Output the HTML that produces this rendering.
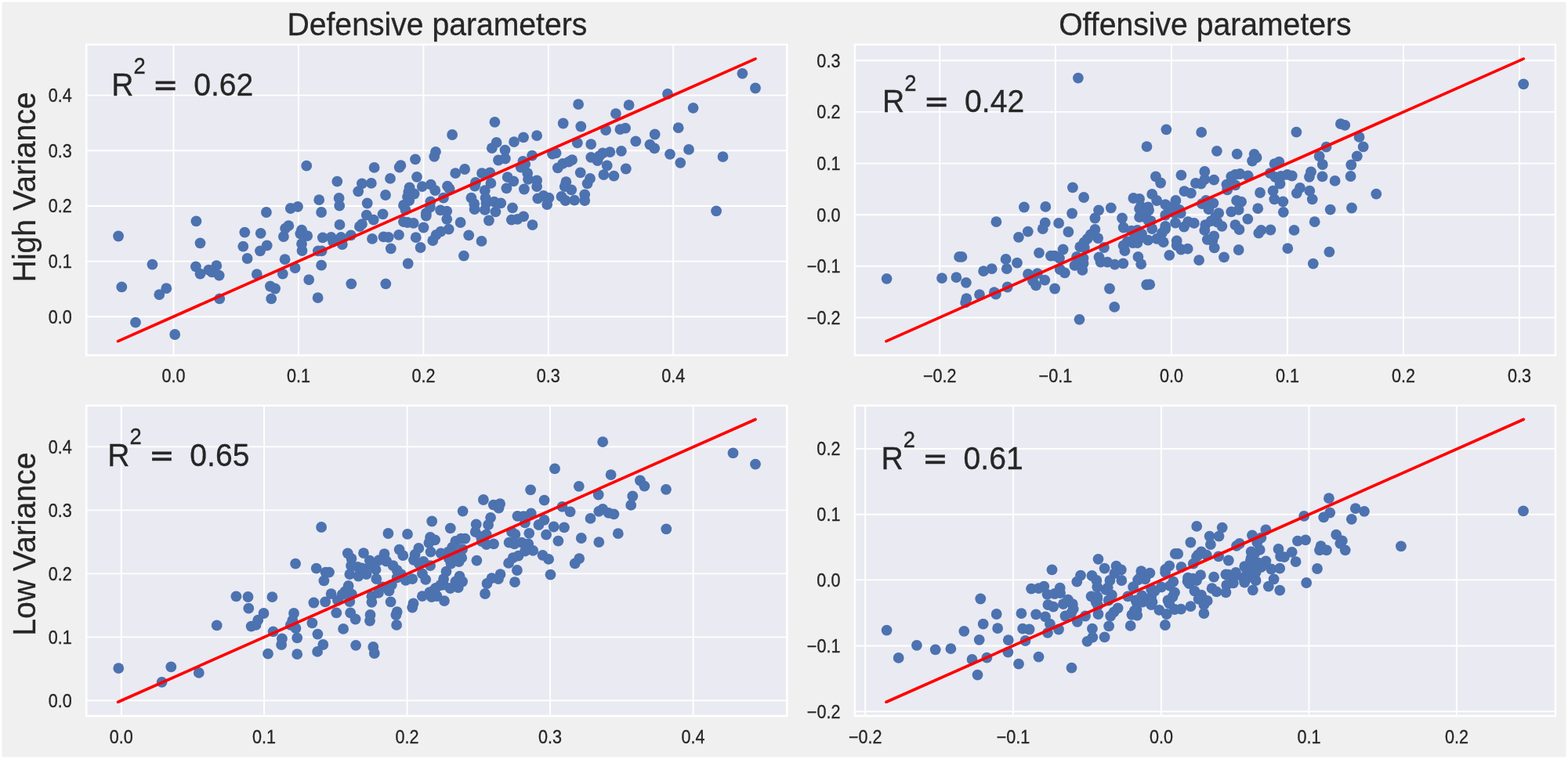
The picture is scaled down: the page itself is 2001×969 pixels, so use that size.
<!DOCTYPE html>
<html><head><meta charset="utf-8"><title>R2 scatter</title>
<style>
html,body{margin:0;padding:0;background:#fff;}
body{width:2001px;height:969px;overflow:hidden;}
svg{display:block;}
text{font-family:"Liberation Sans",Arial,sans-serif;fill:#262626;stroke:#262626;stroke-width:0.3px;}
.t{font-size:21.6px;}
.b{font-size:39.15px;}
.s{font-size:27.405px;}
.e{font-family:"DejaVu Sans",sans-serif;font-size:39.25px;}
.g{stroke:#fff;stroke-width:1.9;fill:none;}
.sp{stroke:#fff;stroke-width:2.5;fill:none;}
.d{fill:#4c72b0;}
.l{stroke:#f00;stroke-width:3.7;stroke-linecap:round;fill:none;}
</style></head>
<body>
<svg width="2001" height="969" viewBox="0 0 2001 969">
<rect x="0" y="0" width="2001" height="969" fill="#fff"/>
<rect x="2.6" y="2.6" width="1996" height="963.9" fill="#f0f0f0"/>
<g id="panelA">
<rect x="110.3" y="56.9" width="894.1" height="396.6" fill="#eaeaf2"/>
<line class="g" x1="221.5" y1="56.9" x2="221.5" y2="453.5"/>
<line class="g" x1="380.9" y1="56.9" x2="380.9" y2="453.5"/>
<line class="g" x1="540.4" y1="56.9" x2="540.4" y2="453.5"/>
<line class="g" x1="699.8" y1="56.9" x2="699.8" y2="453.5"/>
<line class="g" x1="859.2" y1="56.9" x2="859.2" y2="453.5"/>
<line class="g" x1="110.3" y1="404.3" x2="1004.4" y2="404.3"/>
<line class="g" x1="110.3" y1="333.6" x2="1004.4" y2="333.6"/>
<line class="g" x1="110.3" y1="263.0" x2="1004.4" y2="263.0"/>
<line class="g" x1="110.3" y1="192.3" x2="1004.4" y2="192.3"/>
<line class="g" x1="110.3" y1="121.6" x2="1004.4" y2="121.6"/>
<g class="d">
<circle cx="947.4" cy="93.8" r="6.9"/><circle cx="964" cy="112.5" r="6.9"/><circle cx="852" cy="120" r="6.9"/><circle cx="802.6" cy="134.1" r="6.9"/><circle cx="884.6" cy="137.8" r="6.9"/><circle cx="785.9" cy="145.1" r="6.9"/>
<circle cx="865.7" cy="163.2" r="6.9"/><circle cx="773.1" cy="166" r="6.9"/><circle cx="791.4" cy="165.2" r="6.9"/><circle cx="798.1" cy="163.7" r="6.9"/><circle cx="835.7" cy="171.5" r="6.9"/><circle cx="811.3" cy="180.4" r="6.9"/>
<circle cx="829.4" cy="184.6" r="6.9"/><circle cx="835.2" cy="189.4" r="6.9"/><circle cx="754.2" cy="184.1" r="6.9"/><circle cx="879" cy="190.9" r="6.9"/><circle cx="855" cy="196.8" r="6.9"/><circle cx="922.5" cy="200.1" r="6.9"/>
<circle cx="792.9" cy="192.8" r="6.9"/><circle cx="778.4" cy="194.1" r="6.9"/><circle cx="769.2" cy="195.4" r="6.9"/><circle cx="765" cy="199.1" r="6.9"/><circle cx="762.5" cy="205" r="6.9"/><circle cx="754.2" cy="200.8" r="6.9"/>
<circle cx="868.3" cy="207.8" r="6.9"/><circle cx="738.1" cy="133.1" r="6.9"/><circle cx="631.4" cy="155.8" r="6.9"/><circle cx="718.7" cy="157.5" r="6.9"/><circle cx="741.3" cy="161.5" r="6.9"/><circle cx="577.1" cy="172" r="6.9"/>
<circle cx="685.1" cy="173.2" r="6.9"/><circle cx="668" cy="175.4" r="6.9"/><circle cx="656" cy="181.1" r="6.9"/><circle cx="633.6" cy="181.9" r="6.9"/><circle cx="627.8" cy="189.2" r="6.9"/><circle cx="644.5" cy="191.6" r="6.9"/>
<circle cx="736.8" cy="182.4" r="6.9"/><circle cx="556" cy="193.8" r="6.9"/><circle cx="554.2" cy="199.8" r="6.9"/><circle cx="530" cy="203.3" r="6.9"/><circle cx="679.1" cy="198.6" r="6.9"/><circle cx="705" cy="196.6" r="6.9"/>
<circle cx="709.5" cy="195.4" r="6.9"/><circle cx="636" cy="204.5" r="6.9"/><circle cx="644.8" cy="202.5" r="6.9"/><circle cx="667.4" cy="205.8" r="6.9"/><circle cx="730.1" cy="204.1" r="6.9"/><circle cx="391.2" cy="211.7" r="6.9"/>
<circle cx="430.3" cy="231.7" r="6.9"/><circle cx="407.2" cy="255.2" r="6.9"/><circle cx="432.6" cy="253" r="6.9"/><circle cx="433.2" cy="262.7" r="6.9"/><circle cx="370.8" cy="266" r="6.9"/><circle cx="380" cy="263.8" r="6.9"/>
<circle cx="339.9" cy="271" r="6.9"/><circle cx="410.1" cy="271" r="6.9"/><circle cx="250.4" cy="282.4" r="6.9"/><circle cx="433.5" cy="286.9" r="6.9"/><circle cx="368.3" cy="288.2" r="6.9"/><circle cx="364.1" cy="291.6" r="6.9"/>
<circle cx="312.3" cy="296.6" r="6.9"/><circle cx="332.7" cy="297.8" r="6.9"/><circle cx="361.9" cy="302" r="6.9"/><circle cx="385" cy="293.6" r="6.9"/><circle cx="383.3" cy="298.3" r="6.9"/><circle cx="392.2" cy="301.1" r="6.9"/>
<circle cx="151.1" cy="301.5" r="6.9"/><circle cx="411.8" cy="303.3" r="6.9"/><circle cx="422.6" cy="302.8" r="6.9"/><circle cx="425.1" cy="308.6" r="6.9"/><circle cx="435.2" cy="302.8" r="6.9"/><circle cx="255.5" cy="310.3" r="6.9"/>
<circle cx="310.3" cy="314.7" r="6.9"/><circle cx="340.7" cy="313.3" r="6.9"/><circle cx="332" cy="320.3" r="6.9"/><circle cx="385" cy="311.2" r="6.9"/><circle cx="385.5" cy="320" r="6.9"/><circle cx="405.9" cy="320.3" r="6.9"/>
<circle cx="410.6" cy="320.3" r="6.9"/><circle cx="436.8" cy="312" r="6.9"/><circle cx="315.6" cy="330" r="6.9"/><circle cx="363.6" cy="331.2" r="6.9"/><circle cx="194.4" cy="337.7" r="6.9"/><circle cx="249.9" cy="340.4" r="6.9"/>
<circle cx="276.3" cy="339.2" r="6.9"/><circle cx="266.3" cy="344.6" r="6.9"/><circle cx="255.5" cy="349.6" r="6.9"/><circle cx="270.5" cy="347.4" r="6.9"/><circle cx="279.7" cy="351.6" r="6.9"/><circle cx="376.6" cy="342.1" r="6.9"/>
<circle cx="410.1" cy="338.7" r="6.9"/><circle cx="327.8" cy="350.1" r="6.9"/><circle cx="360.8" cy="349.6" r="6.9"/><circle cx="394.2" cy="357.1" r="6.9"/><circle cx="477.6" cy="213.9" r="6.9"/><circle cx="511.4" cy="211.1" r="6.9"/>
<circle cx="509.7" cy="213.5" r="6.9"/><circle cx="498" cy="227.9" r="6.9"/><circle cx="532" cy="225.8" r="6.9"/><circle cx="581.2" cy="221.1" r="6.9"/><circle cx="593.1" cy="216" r="6.9"/><circle cx="461.9" cy="234.3" r="6.9"/>
<circle cx="473.8" cy="233.9" r="6.9"/><circle cx="457.2" cy="244.3" r="6.9"/><circle cx="492" cy="249" r="6.9"/><circle cx="522.6" cy="239.4" r="6.9"/><circle cx="521.3" cy="244.9" r="6.9"/><circle cx="528.6" cy="247.5" r="6.9"/>
<circle cx="520.1" cy="251.3" r="6.9"/><circle cx="522.2" cy="256" r="6.9"/><circle cx="538.8" cy="238.1" r="6.9"/><circle cx="549.8" cy="235.6" r="6.9"/><circle cx="555.3" cy="243.2" r="6.9"/><circle cx="571" cy="237.7" r="6.9"/>
<circle cx="573.6" cy="241.1" r="6.9"/><circle cx="468.7" cy="259.5" r="6.9"/><circle cx="515" cy="261.9" r="6.9"/><circle cx="517.5" cy="267.9" r="6.9"/><circle cx="549.4" cy="257.3" r="6.9"/><circle cx="565.9" cy="252.6" r="6.9"/>
<circle cx="548.9" cy="264.5" r="6.9"/><circle cx="543.8" cy="272.1" r="6.9"/><circle cx="543.8" cy="275.5" r="6.9"/><circle cx="562.1" cy="268.3" r="6.9"/><circle cx="570.2" cy="269.6" r="6.9"/><circle cx="570.2" cy="279.8" r="6.9"/>
<circle cx="467.8" cy="274.7" r="6.9"/><circle cx="488.6" cy="273.4" r="6.9"/><circle cx="476.7" cy="280.6" r="6.9"/><circle cx="587.6" cy="284" r="6.9"/><circle cx="515" cy="283.2" r="6.9"/><circle cx="520.1" cy="284" r="6.9"/>
<circle cx="527.7" cy="284.9" r="6.9"/><circle cx="615" cy="221.1" r="6.9"/><circle cx="625.2" cy="220.3" r="6.9"/><circle cx="606.9" cy="233" r="6.9"/><circle cx="606" cy="237.7" r="6.9"/><circle cx="626.4" cy="233.9" r="6.9"/>
<circle cx="618.8" cy="243.2" r="6.9"/><circle cx="647.7" cy="226.2" r="6.9"/><circle cx="655.3" cy="231.3" r="6.9"/><circle cx="646.4" cy="240.3" r="6.9"/><circle cx="664.7" cy="213.5" r="6.9"/><circle cx="670.2" cy="209.7" r="6.9"/>
<circle cx="673.2" cy="221.1" r="6.9"/><circle cx="674" cy="228.8" r="6.9"/><circle cx="685.1" cy="230.5" r="6.9"/><circle cx="685.1" cy="238.1" r="6.9"/><circle cx="668.9" cy="241.5" r="6.9"/><circle cx="711.8" cy="214.3" r="6.9"/>
<circle cx="718.2" cy="208.8" r="6.9"/><circle cx="725.8" cy="206.7" r="6.9"/><circle cx="740.7" cy="220.3" r="6.9"/><circle cx="753" cy="227.9" r="6.9"/><circle cx="749.6" cy="234.3" r="6.9"/><circle cx="722.4" cy="232.2" r="6.9"/>
<circle cx="720.7" cy="238.1" r="6.9"/><circle cx="729.2" cy="242.4" r="6.9"/><circle cx="601.4" cy="252.6" r="6.9"/><circle cx="605.2" cy="260.2" r="6.9"/><circle cx="605.6" cy="267" r="6.9"/><circle cx="619.6" cy="252.6" r="6.9"/>
<circle cx="620.5" cy="259.4" r="6.9"/><circle cx="630.7" cy="257.7" r="6.9"/><circle cx="639.2" cy="259.4" r="6.9"/><circle cx="618.8" cy="267.9" r="6.9"/><circle cx="632.4" cy="270.4" r="6.9"/><circle cx="623.9" cy="281.5" r="6.9"/>
<circle cx="654" cy="265.3" r="6.9"/><circle cx="686.3" cy="253.4" r="6.9"/><circle cx="693.6" cy="250" r="6.9"/><circle cx="700.4" cy="252.6" r="6.9"/><circle cx="698.2" cy="261.1" r="6.9"/><circle cx="716.5" cy="250.9" r="6.9"/>
<circle cx="721.6" cy="256" r="6.9"/><circle cx="733.1" cy="255.6" r="6.9"/><circle cx="746.2" cy="248.3" r="6.9"/><circle cx="746.2" cy="256" r="6.9"/><circle cx="652.8" cy="280.6" r="6.9"/><circle cx="660.4" cy="279.8" r="6.9"/>
<circle cx="668.1" cy="276.4" r="6.9"/><circle cx="458.9" cy="289.2" r="6.9"/><circle cx="461.9" cy="286.2" r="6.9"/><circle cx="540.5" cy="290.5" r="6.9"/><circle cx="572.7" cy="292.6" r="6.9"/><circle cx="562.5" cy="295.6" r="6.9"/>
<circle cx="556.6" cy="299.8" r="6.9"/><circle cx="552.3" cy="307.1" r="6.9"/><circle cx="598.2" cy="300.3" r="6.9"/><circle cx="447.8" cy="300.3" r="6.9"/><circle cx="475" cy="304.9" r="6.9"/><circle cx="489.5" cy="302.4" r="6.9"/>
<circle cx="495.8" cy="302.8" r="6.9"/><circle cx="509" cy="299.8" r="6.9"/><circle cx="530.7" cy="303.2" r="6.9"/><circle cx="498.8" cy="317.3" r="6.9"/><circle cx="536.6" cy="316" r="6.9"/><circle cx="591.9" cy="326.6" r="6.9"/>
<circle cx="520.7" cy="336.5" r="6.9"/><circle cx="448.3" cy="362.3" r="6.9"/><circle cx="492.3" cy="362.3" r="6.9"/><circle cx="679.5" cy="287.1" r="6.9"/><circle cx="614.5" cy="307.9" r="6.9"/><circle cx="774.7" cy="211.4" r="6.9"/>
<circle cx="798.8" cy="215.5" r="6.9"/><circle cx="770.4" cy="223.1" r="6.9"/><circle cx="783.4" cy="224.7" r="6.9"/><circle cx="914.1" cy="269.4" r="6.9"/><circle cx="155.3" cy="366.4" r="6.9"/><circle cx="212.3" cy="368.2" r="6.9"/>
<circle cx="203.3" cy="376.1" r="6.9"/><circle cx="344.9" cy="365.5" r="6.9"/><circle cx="351.1" cy="368.5" r="6.9"/><circle cx="280.2" cy="381.4" r="6.9"/><circle cx="346.2" cy="381.4" r="6.9"/><circle cx="405.6" cy="380.2" r="6.9"/>
<circle cx="173" cy="411.7" r="6.9"/><circle cx="223.2" cy="427" r="6.9"/>
</g>
<line class="l" x1="150.6" y1="435.6" x2="964.0" y2="75.1"/>
<rect class="sp" x="110.3" y="56.9" width="894.1" height="396.6"/>
<text class="t" transform="translate(221.50 488.20) scale(1 1.08)" text-anchor="middle">0.0</text>
<text class="t" transform="translate(380.90 488.20) scale(1 1.08)" text-anchor="middle">0.1</text>
<text class="t" transform="translate(540.40 488.20) scale(1 1.08)" text-anchor="middle">0.2</text>
<text class="t" transform="translate(699.80 488.20) scale(1 1.08)" text-anchor="middle">0.3</text>
<text class="t" transform="translate(859.20 488.20) scale(1 1.08)" text-anchor="middle">0.4</text>
<text class="t" transform="translate(91.80 412.70) scale(1 1.08)" text-anchor="end">0.0</text>
<text class="t" transform="translate(91.80 342.00) scale(1 1.08)" text-anchor="end">0.1</text>
<text class="t" transform="translate(91.80 271.40) scale(1 1.08)" text-anchor="end">0.2</text>
<text class="t" transform="translate(91.80 200.70) scale(1 1.08)" text-anchor="end">0.3</text>
<text class="t" transform="translate(91.80 130.00) scale(1 1.08)" text-anchor="end">0.4</text>
<text class="b" transform="translate(142.20 121.75) scale(1 1.045)">R</text>
<text class="s" transform="translate(170.40 94.45) scale(1 1.045)">2</text>
<text class="e" transform="translate(194.80 121.75) scale(1 1.045)">=</text>
<text class="b" transform="translate(247.20 121.75) scale(1 1.045)">0.62</text>
</g>
<g id="panelB">
<rect x="1090.9" y="56.9" width="894.0" height="396.6" fill="#eaeaf2"/>
<line class="g" x1="1199.2" y1="56.9" x2="1199.2" y2="453.5"/>
<line class="g" x1="1346.9" y1="56.9" x2="1346.9" y2="453.5"/>
<line class="g" x1="1494.9" y1="56.9" x2="1494.9" y2="453.5"/>
<line class="g" x1="1642.9" y1="56.9" x2="1642.9" y2="453.5"/>
<line class="g" x1="1790.9" y1="56.9" x2="1790.9" y2="453.5"/>
<line class="g" x1="1939.0" y1="56.9" x2="1939.0" y2="453.5"/>
<line class="g" x1="1090.9" y1="77.2" x2="1984.9" y2="77.2"/>
<line class="g" x1="1090.9" y1="142.9" x2="1984.9" y2="142.9"/>
<line class="g" x1="1090.9" y1="208.6" x2="1984.9" y2="208.6"/>
<line class="g" x1="1090.9" y1="274.2" x2="1984.9" y2="274.2"/>
<line class="g" x1="1090.9" y1="339.8" x2="1984.9" y2="339.8"/>
<line class="g" x1="1090.9" y1="405.5" x2="1984.9" y2="405.5"/>
<g class="d">
<circle cx="1375.9" cy="99.6" r="6.9"/><circle cx="1488.4" cy="165.3" r="6.9"/><circle cx="1533.2" cy="168.9" r="6.9"/><circle cx="1463.5" cy="187.1" r="6.9"/><circle cx="1552.9" cy="192.8" r="6.9"/><circle cx="1578.7" cy="196.6" r="6.9"/>
<circle cx="1600.6" cy="196.8" r="6.9"/><circle cx="1603.6" cy="201.1" r="6.9"/><circle cx="1598.1" cy="205.5" r="6.9"/><circle cx="1654.4" cy="168.7" r="6.9"/><circle cx="1710.9" cy="158.2" r="6.9"/><circle cx="1716.3" cy="159.8" r="6.9"/>
<circle cx="1734.6" cy="174.9" r="6.9"/><circle cx="1692.5" cy="187.7" r="6.9"/><circle cx="1739.7" cy="187.4" r="6.9"/><circle cx="1683.7" cy="199.4" r="6.9"/><circle cx="1731.8" cy="199.4" r="6.9"/><circle cx="1626.5" cy="209.1" r="6.9"/>
<circle cx="1632.3" cy="206.6" r="6.9"/><circle cx="1687.8" cy="210" r="6.9"/><circle cx="1724.3" cy="210.5" r="6.9"/><circle cx="1944.2" cy="107.3" r="6.9"/><circle cx="1131.6" cy="355.8" r="6.9"/><circle cx="1202" cy="355.1" r="6.9"/>
<circle cx="1220.4" cy="354.1" r="6.9"/><circle cx="1232.9" cy="360.8" r="6.9"/><circle cx="1224.1" cy="327.9" r="6.9"/><circle cx="1227.4" cy="327.9" r="6.9"/><circle cx="1368.9" cy="239.4" r="6.9"/><circle cx="1383.1" cy="252" r="6.9"/>
<circle cx="1306.9" cy="264.5" r="6.9"/><circle cx="1334.3" cy="263.9" r="6.9"/><circle cx="1368.1" cy="272.5" r="6.9"/><circle cx="1402.1" cy="268.3" r="6.9"/><circle cx="1397.4" cy="278.5" r="6.9"/><circle cx="1417.8" cy="265.3" r="6.9"/>
<circle cx="1271.4" cy="283.2" r="6.9"/><circle cx="1333.7" cy="284.4" r="6.9"/><circle cx="1351.1" cy="284.9" r="6.9"/><circle cx="1474.9" cy="225.4" r="6.9"/><circle cx="1481.1" cy="233.5" r="6.9"/><circle cx="1507.4" cy="223.7" r="6.9"/>
<circle cx="1537.3" cy="219" r="6.9"/><circle cx="1549.2" cy="229.6" r="6.9"/><circle cx="1525.9" cy="233.9" r="6.9"/><circle cx="1532.7" cy="234.7" r="6.9"/><circle cx="1537.3" cy="229.2" r="6.9"/><circle cx="1511.4" cy="244.1" r="6.9"/>
<circle cx="1519.9" cy="246.6" r="6.9"/><circle cx="1470.2" cy="247.9" r="6.9"/><circle cx="1446.4" cy="253" r="6.9"/><circle cx="1454.1" cy="253.9" r="6.9"/><circle cx="1476.2" cy="256" r="6.9"/><circle cx="1500.4" cy="256" r="6.9"/>
<circle cx="1487.2" cy="261.1" r="6.9"/><circle cx="1455.8" cy="263.6" r="6.9"/><circle cx="1465.1" cy="264.5" r="6.9"/><circle cx="1454.1" cy="266.6" r="6.9"/><circle cx="1466" cy="268.3" r="6.9"/><circle cx="1496.6" cy="264.5" r="6.9"/>
<circle cx="1505.1" cy="267.9" r="6.9"/><circle cx="1487.2" cy="274.7" r="6.9"/><circle cx="1506.8" cy="272.1" r="6.9"/><circle cx="1432" cy="278.5" r="6.9"/><circle cx="1454.1" cy="277.2" r="6.9"/><circle cx="1462.6" cy="278.1" r="6.9"/>
<circle cx="1466" cy="281.9" r="6.9"/><circle cx="1539" cy="256" r="6.9"/><circle cx="1548.4" cy="259.4" r="6.9"/><circle cx="1533.9" cy="260.2" r="6.9"/><circle cx="1542.4" cy="267" r="6.9"/><circle cx="1555.2" cy="272.1" r="6.9"/>
<circle cx="1550.9" cy="277.2" r="6.9"/><circle cx="1516.1" cy="283.2" r="6.9"/><circle cx="1523.8" cy="284.9" r="6.9"/><circle cx="1576.4" cy="222.8" r="6.9"/><circle cx="1582.4" cy="222" r="6.9"/><circle cx="1571.3" cy="225.4" r="6.9"/>
<circle cx="1565.4" cy="235.6" r="6.9"/><circle cx="1576.4" cy="236.4" r="6.9"/><circle cx="1566.2" cy="242.4" r="6.9"/><circle cx="1578.1" cy="256" r="6.9"/><circle cx="1584.1" cy="257.7" r="6.9"/><circle cx="1571.3" cy="270.4" r="6.9"/>
<circle cx="1580.7" cy="267.9" r="6.9"/><circle cx="1592.7" cy="224.5" r="6.9"/><circle cx="1620.8" cy="221.1" r="6.9"/><circle cx="1627.6" cy="226.2" r="6.9"/><circle cx="1634.8" cy="225" r="6.9"/><circle cx="1642.9" cy="222.8" r="6.9"/>
<circle cx="1648.8" cy="224.5" r="6.9"/><circle cx="1633.5" cy="234.7" r="6.9"/><circle cx="1673" cy="219.4" r="6.9"/><circle cx="1670.9" cy="225.8" r="6.9"/><circle cx="1687.5" cy="225.4" r="6.9"/><circle cx="1703.6" cy="230.9" r="6.9"/>
<circle cx="1723.6" cy="225" r="6.9"/><circle cx="1659" cy="239.8" r="6.9"/><circle cx="1654.8" cy="246.6" r="6.9"/><circle cx="1671.3" cy="243.7" r="6.9"/><circle cx="1674.7" cy="254.3" r="6.9"/><circle cx="1608" cy="246" r="6.9"/>
<circle cx="1624.6" cy="243.7" r="6.9"/><circle cx="1626.3" cy="254.3" r="6.9"/><circle cx="1637.3" cy="257.3" r="6.9"/><circle cx="1637.8" cy="270.8" r="6.9"/><circle cx="1605.2" cy="266.2" r="6.9"/><circle cx="1697.7" cy="267.6" r="6.9"/>
<circle cx="1725" cy="265.5" r="6.9"/><circle cx="1592.3" cy="279.6" r="6.9"/><circle cx="1677.7" cy="283.2" r="6.9"/><circle cx="1311.8" cy="295.6" r="6.9"/><circle cx="1299.9" cy="302.8" r="6.9"/><circle cx="1330.7" cy="292.2" r="6.9"/>
<circle cx="1363.4" cy="296" r="6.9"/><circle cx="1397.4" cy="293" r="6.9"/><circle cx="1401.2" cy="304.1" r="6.9"/><circle cx="1387.6" cy="304.9" r="6.9"/><circle cx="1378.3" cy="315.1" r="6.9"/><circle cx="1383.8" cy="316.4" r="6.9"/>
<circle cx="1326" cy="322.8" r="6.9"/><circle cx="1356.6" cy="318.5" r="6.9"/><circle cx="1340.9" cy="326.6" r="6.9"/><circle cx="1352" cy="329.6" r="6.9"/><circle cx="1408.9" cy="316" r="6.9"/><circle cx="1374" cy="327.9" r="6.9"/>
<circle cx="1382.5" cy="329.6" r="6.9"/><circle cx="1382.5" cy="336.4" r="6.9"/><circle cx="1402.5" cy="328.3" r="6.9"/><circle cx="1404.6" cy="334.7" r="6.9"/><circle cx="1413.1" cy="334.7" r="6.9"/><circle cx="1283.6" cy="330.9" r="6.9"/>
<circle cx="1298" cy="335.7" r="6.9"/><circle cx="1284.8" cy="343.2" r="6.9"/><circle cx="1265.7" cy="343.2" r="6.9"/><circle cx="1255.1" cy="346.1" r="6.9"/><circle cx="1312" cy="350" r="6.9"/><circle cx="1323.9" cy="349.1" r="6.9"/>
<circle cx="1352.8" cy="344" r="6.9"/><circle cx="1358.8" cy="348.3" r="6.9"/><circle cx="1371.5" cy="338.9" r="6.9"/><circle cx="1381.3" cy="344.9" r="6.9"/><circle cx="1318" cy="358.5" r="6.9"/><circle cx="1333.3" cy="357.6" r="6.9"/>
<circle cx="1433.7" cy="290.5" r="6.9"/><circle cx="1443.9" cy="294.7" r="6.9"/><circle cx="1451.5" cy="293.9" r="6.9"/><circle cx="1438.8" cy="308.3" r="6.9"/><circle cx="1445.6" cy="310" r="6.9"/><circle cx="1451.5" cy="310" r="6.9"/>
<circle cx="1457.5" cy="303.2" r="6.9"/><circle cx="1465.1" cy="306.6" r="6.9"/><circle cx="1470.2" cy="292.2" r="6.9"/><circle cx="1476.2" cy="304.9" r="6.9"/><circle cx="1484.7" cy="309.2" r="6.9"/><circle cx="1483" cy="297.3" r="6.9"/>
<circle cx="1487.2" cy="288.8" r="6.9"/><circle cx="1500" cy="284.5" r="6.9"/><circle cx="1511" cy="289.6" r="6.9"/><circle cx="1501.7" cy="307.5" r="6.9"/><circle cx="1501.7" cy="313.4" r="6.9"/><circle cx="1507.2" cy="318.5" r="6.9"/>
<circle cx="1515.7" cy="317.7" r="6.9"/><circle cx="1435.4" cy="320.2" r="6.9"/><circle cx="1452.4" cy="327.9" r="6.9"/><circle cx="1456.2" cy="337.2" r="6.9"/><circle cx="1492.3" cy="325.8" r="6.9"/><circle cx="1530.1" cy="332.1" r="6.9"/>
<circle cx="1562" cy="328.3" r="6.9"/><circle cx="1580.7" cy="319" r="6.9"/><circle cx="1549.7" cy="316.4" r="6.9"/><circle cx="1540.7" cy="305.8" r="6.9"/><circle cx="1549.2" cy="301.5" r="6.9"/><circle cx="1537.3" cy="293.9" r="6.9"/>
<circle cx="1538.2" cy="287.1" r="6.9"/><circle cx="1559.4" cy="288.8" r="6.9"/><circle cx="1553.5" cy="283.7" r="6.9"/><circle cx="1576.4" cy="287.1" r="6.9"/><circle cx="1581.5" cy="293" r="6.9"/><circle cx="1422.6" cy="337.6" r="6.9"/>
<circle cx="1433.3" cy="336.4" r="6.9"/><circle cx="1609.3" cy="293.9" r="6.9"/><circle cx="1606.3" cy="297.7" r="6.9"/><circle cx="1621.4" cy="293.5" r="6.9"/><circle cx="1651.5" cy="293.9" r="6.9"/><circle cx="1643.3" cy="317.1" r="6.9"/>
<circle cx="1696.4" cy="321.7" r="6.9"/><circle cx="1675.8" cy="336.6" r="6.9"/><circle cx="1756.3" cy="247.6" r="6.9"/><circle cx="1233.4" cy="381.1" r="6.9"/><circle cx="1232.1" cy="386.1" r="6.9"/><circle cx="1250" cy="376.1" r="6.9"/>
<circle cx="1268.9" cy="373.2" r="6.9"/><circle cx="1270.9" cy="375.6" r="6.9"/><circle cx="1285.6" cy="366.5" r="6.9"/><circle cx="1322" cy="364.4" r="6.9"/><circle cx="1346.1" cy="368.5" r="6.9"/><circle cx="1377.5" cy="407.8" r="6.9"/>
<circle cx="1416" cy="368.5" r="6.9"/><circle cx="1463.2" cy="363.5" r="6.9"/><circle cx="1467.2" cy="363.2" r="6.9"/><circle cx="1422.2" cy="391.9" r="6.9"/><circle cx="1391.9" cy="299.5" r="6.9"/><circle cx="1383.5" cy="309.5" r="6.9"/>
<circle cx="1345.9" cy="326.7" r="6.9"/><circle cx="1433.6" cy="313.7" r="6.9"/><circle cx="1462.1" cy="271.9" r="6.9"/><circle cx="1468.7" cy="282.2" r="6.9"/><circle cx="1490.5" cy="263.8" r="6.9"/><circle cx="1498.8" cy="272.2" r="6.9"/>
<circle cx="1487.1" cy="292.3" r="6.9"/><circle cx="1545.6" cy="282.2" r="6.9"/><circle cx="1547.3" cy="307.3" r="6.9"/><circle cx="1447" cy="305.3" r="6.9"/><circle cx="1457" cy="298.6" r="6.9"/>
</g>
<line class="l" x1="1131.0" y1="435.6" x2="1944.2" y2="75.1"/>
<rect class="sp" x="1090.9" y="56.9" width="894.0" height="396.6"/>
<text class="t" transform="translate(1199.20 488.20) scale(1 1.08)" text-anchor="middle">−0.2</text>
<text class="t" transform="translate(1346.90 488.20) scale(1 1.08)" text-anchor="middle">−0.1</text>
<text class="t" transform="translate(1494.90 488.20) scale(1 1.08)" text-anchor="middle">0.0</text>
<text class="t" transform="translate(1642.90 488.20) scale(1 1.08)" text-anchor="middle">0.1</text>
<text class="t" transform="translate(1790.90 488.20) scale(1 1.08)" text-anchor="middle">0.2</text>
<text class="t" transform="translate(1939.00 488.20) scale(1 1.08)" text-anchor="middle">0.3</text>
<text class="t" transform="translate(1072.40 85.60) scale(1 1.08)" text-anchor="end">0.3</text>
<text class="t" transform="translate(1072.40 151.30) scale(1 1.08)" text-anchor="end">0.2</text>
<text class="t" transform="translate(1072.40 217.00) scale(1 1.08)" text-anchor="end">0.1</text>
<text class="t" transform="translate(1072.40 282.60) scale(1 1.08)" text-anchor="end">0.0</text>
<text class="t" transform="translate(1072.40 348.20) scale(1 1.08)" text-anchor="end">−0.1</text>
<text class="t" transform="translate(1072.40 413.90) scale(1 1.08)" text-anchor="end">−0.2</text>
<text class="b" transform="translate(1126.10 143.10) scale(1 1.045)">R</text>
<text class="s" transform="translate(1154.30 115.80) scale(1 1.045)">2</text>
<text class="e" transform="translate(1178.70 143.10) scale(1 1.045)">=</text>
<text class="b" transform="translate(1231.10 143.10) scale(1 1.045)">0.42</text>
</g>
<g id="panelC">
<rect x="110.3" y="517.8" width="894.1" height="396.2" fill="#eaeaf2"/>
<line class="g" x1="154.8" y1="517.8" x2="154.8" y2="914.0"/>
<line class="g" x1="337.1" y1="517.8" x2="337.1" y2="914.0"/>
<line class="g" x1="519.6" y1="517.8" x2="519.6" y2="914.0"/>
<line class="g" x1="702.0" y1="517.8" x2="702.0" y2="914.0"/>
<line class="g" x1="884.6" y1="517.8" x2="884.6" y2="914.0"/>
<line class="g" x1="110.3" y1="894.4" x2="1004.4" y2="894.4"/>
<line class="g" x1="110.3" y1="813.4" x2="1004.4" y2="813.4"/>
<line class="g" x1="110.3" y1="732.4" x2="1004.4" y2="732.4"/>
<line class="g" x1="110.3" y1="651.4" x2="1004.4" y2="651.4"/>
<line class="g" x1="110.3" y1="570.4" x2="1004.4" y2="570.4"/>
<g class="d">
<circle cx="708" cy="598.4" r="6.9"/><circle cx="738.8" cy="620.8" r="6.9"/><circle cx="677.1" cy="625.3" r="6.9"/><circle cx="694.6" cy="638.7" r="6.9"/><circle cx="616.9" cy="638" r="6.9"/><circle cx="629.8" cy="644.6" r="6.9"/>
<circle cx="638.1" cy="643.2" r="6.9"/><circle cx="636.5" cy="648.6" r="6.9"/><circle cx="590.6" cy="652.6" r="6.9"/><circle cx="717.5" cy="646.9" r="6.9"/><circle cx="727.6" cy="653.3" r="6.9"/><circle cx="660.4" cy="658.8" r="6.9"/>
<circle cx="677.7" cy="655.4" r="6.9"/><circle cx="626.1" cy="660.8" r="6.9"/><circle cx="551.2" cy="665.5" r="6.9"/><circle cx="694.6" cy="663.8" r="6.9"/><circle cx="753.5" cy="661.9" r="6.9"/><circle cx="769.2" cy="564.2" r="6.9"/>
<circle cx="935.5" cy="578.4" r="6.9"/><circle cx="964" cy="592.6" r="6.9"/><circle cx="779.6" cy="606.1" r="6.9"/><circle cx="816.9" cy="613.5" r="6.9"/><circle cx="822.4" cy="620.7" r="6.9"/><circle cx="850" cy="624.8" r="6.9"/>
<circle cx="763.7" cy="631.5" r="6.9"/><circle cx="807.3" cy="633.5" r="6.9"/><circle cx="805.2" cy="644.9" r="6.9"/><circle cx="764.2" cy="652.8" r="6.9"/><circle cx="769.2" cy="649.9" r="6.9"/><circle cx="776.7" cy="654.9" r="6.9"/>
<circle cx="783.4" cy="656.3" r="6.9"/><circle cx="410.1" cy="673" r="6.9"/><circle cx="377.1" cy="719.7" r="6.9"/><circle cx="403.7" cy="725.7" r="6.9"/><circle cx="415.6" cy="730.7" r="6.9"/><circle cx="413.4" cy="741.4" r="6.9"/>
<circle cx="301.4" cy="761.3" r="6.9"/><circle cx="316.5" cy="762" r="6.9"/><circle cx="347.4" cy="762.1" r="6.9"/><circle cx="317.3" cy="776.7" r="6.9"/><circle cx="336.5" cy="783" r="6.9"/><circle cx="329.3" cy="791.7" r="6.9"/>
<circle cx="320.6" cy="799.6" r="6.9"/><circle cx="326.5" cy="797.9" r="6.9"/><circle cx="276.7" cy="798.4" r="6.9"/><circle cx="375" cy="783" r="6.9"/><circle cx="373.3" cy="792" r="6.9"/><circle cx="370.8" cy="797.9" r="6.9"/>
<circle cx="377.5" cy="802.1" r="6.9"/><circle cx="348.6" cy="806.3" r="6.9"/><circle cx="379.2" cy="814.3" r="6.9"/><circle cx="359.9" cy="815.5" r="6.9"/><circle cx="359.1" cy="823" r="6.9"/><circle cx="400.4" cy="769.5" r="6.9"/>
<circle cx="415.1" cy="768.3" r="6.9"/><circle cx="422.6" cy="758.1" r="6.9"/><circle cx="398.4" cy="795.4" r="6.9"/><circle cx="405.4" cy="809.6" r="6.9"/><circle cx="412.3" cy="823" r="6.9"/><circle cx="574.8" cy="674.4" r="6.9"/>
<circle cx="495.4" cy="681" r="6.9"/><circle cx="520" cy="681.9" r="6.9"/><circle cx="549.1" cy="685.9" r="6.9"/><circle cx="555.1" cy="689.3" r="6.9"/><circle cx="547.4" cy="693.1" r="6.9"/><circle cx="534.3" cy="699.9" r="6.9"/>
<circle cx="549.6" cy="704.6" r="6.9"/><circle cx="509.6" cy="701.6" r="6.9"/><circle cx="514.3" cy="709.2" r="6.9"/><circle cx="443.8" cy="706.3" r="6.9"/><circle cx="448.5" cy="713.1" r="6.9"/><circle cx="464" cy="706.1" r="6.9"/>
<circle cx="471.8" cy="715.6" r="6.9"/><circle cx="490.5" cy="707.1" r="6.9"/><circle cx="483.7" cy="715.2" r="6.9"/><circle cx="493.1" cy="716.5" r="6.9"/><circle cx="529.6" cy="708" r="6.9"/><circle cx="527.9" cy="714.8" r="6.9"/>
<circle cx="562.7" cy="706.3" r="6.9"/><circle cx="581.4" cy="691" r="6.9"/><circle cx="588.2" cy="687.6" r="6.9"/><circle cx="577.2" cy="698.6" r="6.9"/><circle cx="572.1" cy="704.6" r="6.9"/><circle cx="572.9" cy="713.1" r="6.9"/>
<circle cx="448" cy="722.1" r="6.9"/><circle cx="456.5" cy="723.8" r="6.9"/><circle cx="464.2" cy="726.3" r="6.9"/><circle cx="446.3" cy="733.1" r="6.9"/><circle cx="457.4" cy="735.7" r="6.9"/><circle cx="467.6" cy="733.1" r="6.9"/>
<circle cx="475.2" cy="722.1" r="6.9"/><circle cx="479.5" cy="727.2" r="6.9"/><circle cx="480.3" cy="739.1" r="6.9"/><circle cx="501.6" cy="722.1" r="6.9"/><circle cx="506.7" cy="728" r="6.9"/><circle cx="511.8" cy="733.1" r="6.9"/>
<circle cx="506.7" cy="737.4" r="6.9"/><circle cx="534.7" cy="719.5" r="6.9"/><circle cx="549.1" cy="722.1" r="6.9"/><circle cx="538.9" cy="732.3" r="6.9"/><circle cx="543.2" cy="739.9" r="6.9"/><circle cx="517.7" cy="740.8" r="6.9"/>
<circle cx="526.2" cy="739.1" r="6.9"/><circle cx="569.5" cy="729.7" r="6.9"/><circle cx="566.1" cy="739.1" r="6.9"/><circle cx="575.5" cy="719.5" r="6.9"/><circle cx="585.7" cy="717" r="6.9"/><circle cx="586.5" cy="735.7" r="6.9"/>
<circle cx="420" cy="730.6" r="6.9"/><circle cx="444.6" cy="748" r="6.9"/><circle cx="440.4" cy="755.2" r="6.9"/><circle cx="448.9" cy="758.6" r="6.9"/><circle cx="431" cy="766.3" r="6.9"/><circle cx="446.3" cy="768" r="6.9"/>
<circle cx="474.4" cy="761.2" r="6.9"/><circle cx="474.4" cy="768.8" r="6.9"/><circle cx="482.9" cy="756.9" r="6.9"/><circle cx="488" cy="749.3" r="6.9"/><circle cx="499.9" cy="746.7" r="6.9"/><circle cx="496.5" cy="754.4" r="6.9"/>
<circle cx="498.6" cy="768.4" r="6.9"/><circle cx="538.9" cy="761.2" r="6.9"/><circle cx="548.3" cy="756.1" r="6.9"/><circle cx="555.9" cy="751" r="6.9"/><circle cx="550.8" cy="762" r="6.9"/><circle cx="557.6" cy="761.2" r="6.9"/>
<circle cx="567" cy="767.1" r="6.9"/><circle cx="566.1" cy="746.7" r="6.9"/><circle cx="574.6" cy="751" r="6.9"/><circle cx="584.8" cy="750.1" r="6.9"/><circle cx="581.4" cy="742.5" r="6.9"/><circle cx="527.5" cy="770.5" r="6.9"/>
<circle cx="526.2" cy="775.6" r="6.9"/><circle cx="429.3" cy="782.4" r="6.9"/><circle cx="447.2" cy="782.4" r="6.9"/><circle cx="453.6" cy="790.5" r="6.9"/><circle cx="472.5" cy="785" r="6.9"/><circle cx="472" cy="792.6" r="6.9"/>
<circle cx="506.7" cy="781.1" r="6.9"/><circle cx="505.4" cy="785" r="6.9"/><circle cx="607.7" cy="669.5" r="6.9"/><circle cx="623.1" cy="670" r="6.9"/><circle cx="669.9" cy="667.4" r="6.9"/><circle cx="687.5" cy="670" r="6.9"/>
<circle cx="706.7" cy="672.5" r="6.9"/><circle cx="720" cy="673.3" r="6.9"/><circle cx="606.7" cy="679.1" r="6.9"/><circle cx="620.7" cy="682.5" r="6.9"/><circle cx="593.5" cy="687.6" r="6.9"/><circle cx="614.7" cy="691" r="6.9"/>
<circle cx="620.7" cy="695.2" r="6.9"/><circle cx="630" cy="694.4" r="6.9"/><circle cx="653" cy="679.1" r="6.9"/><circle cx="649.6" cy="692.7" r="6.9"/><circle cx="656.4" cy="694.4" r="6.9"/><circle cx="675.3" cy="680.8" r="6.9"/>
<circle cx="697.1" cy="682.7" r="6.9"/><circle cx="712.4" cy="690.7" r="6.9"/><circle cx="741.8" cy="687" r="6.9"/><circle cx="665.7" cy="692.7" r="6.9"/><circle cx="674.2" cy="694.4" r="6.9"/><circle cx="680.2" cy="702.9" r="6.9"/>
<circle cx="670" cy="703.7" r="6.9"/><circle cx="661.5" cy="709.7" r="6.9"/><circle cx="654.7" cy="712.2" r="6.9"/><circle cx="692.5" cy="708.8" r="6.9"/><circle cx="700.1" cy="713.9" r="6.9"/><circle cx="608.4" cy="715.6" r="6.9"/>
<circle cx="590.1" cy="701.2" r="6.9"/><circle cx="589.2" cy="712.2" r="6.9"/><circle cx="739.2" cy="713.1" r="6.9"/><circle cx="649.1" cy="718.9" r="6.9"/><circle cx="733.7" cy="719.4" r="6.9"/><circle cx="659.9" cy="728" r="6.9"/>
<circle cx="638.5" cy="733.1" r="6.9"/><circle cx="627.5" cy="738.2" r="6.9"/><circle cx="636" cy="739.1" r="6.9"/><circle cx="621.5" cy="745" r="6.9"/><circle cx="657" cy="743.2" r="6.9"/><circle cx="702.5" cy="733.6" r="6.9"/>
<circle cx="619" cy="758" r="6.9"/><circle cx="590.1" cy="742.5" r="6.9"/><circle cx="788.8" cy="681.2" r="6.9"/><circle cx="764.3" cy="692.1" r="6.9"/><circle cx="850.3" cy="675.3" r="6.9"/><circle cx="405.1" cy="831.9" r="6.9"/>
<circle cx="342" cy="834.7" r="6.9"/><circle cx="379.2" cy="835.2" r="6.9"/><circle cx="151.3" cy="853.1" r="6.9"/><circle cx="218.3" cy="851.4" r="6.9"/><circle cx="253.8" cy="858.9" r="6.9"/><circle cx="206.6" cy="870.8" r="6.9"/>
<circle cx="438.1" cy="802.9" r="6.9"/><circle cx="506.1" cy="797.9" r="6.9"/><circle cx="454.1" cy="823.8" r="6.9"/><circle cx="476.3" cy="826" r="6.9"/><circle cx="477.8" cy="834" r="6.9"/><circle cx="668.2" cy="659.2" r="6.9"/>
<circle cx="657.4" cy="682.1" r="6.9"/><circle cx="613.9" cy="685.1" r="6.9"/><circle cx="580.5" cy="708.5" r="6.9"/><circle cx="540.4" cy="716.9" r="6.9"/><circle cx="461.8" cy="725.3" r="6.9"/><circle cx="562.1" cy="747" r="6.9"/>
<circle cx="553.7" cy="753.7" r="6.9"/><circle cx="436.7" cy="759" r="6.9"/>
</g>
<line class="l" x1="150.6" y1="896.2" x2="964.0" y2="535.5"/>
<rect class="sp" x="110.3" y="517.8" width="894.1" height="396.2"/>
<text class="t" transform="translate(154.80 948.70) scale(1 1.08)" text-anchor="middle">0.0</text>
<text class="t" transform="translate(337.10 948.70) scale(1 1.08)" text-anchor="middle">0.1</text>
<text class="t" transform="translate(519.60 948.70) scale(1 1.08)" text-anchor="middle">0.2</text>
<text class="t" transform="translate(702.00 948.70) scale(1 1.08)" text-anchor="middle">0.3</text>
<text class="t" transform="translate(884.60 948.70) scale(1 1.08)" text-anchor="middle">0.4</text>
<text class="t" transform="translate(91.80 902.80) scale(1 1.08)" text-anchor="end">0.0</text>
<text class="t" transform="translate(91.80 821.80) scale(1 1.08)" text-anchor="end">0.1</text>
<text class="t" transform="translate(91.80 740.80) scale(1 1.08)" text-anchor="end">0.2</text>
<text class="t" transform="translate(91.80 659.80) scale(1 1.08)" text-anchor="end">0.3</text>
<text class="t" transform="translate(91.80 578.80) scale(1 1.08)" text-anchor="end">0.4</text>
<text class="b" transform="translate(137.30 594.70) scale(1 1.045)">R</text>
<text class="s" transform="translate(165.50 567.40) scale(1 1.045)">2</text>
<text class="e" transform="translate(189.90 594.70) scale(1 1.045)">=</text>
<text class="b" transform="translate(242.30 594.70) scale(1 1.045)">0.65</text>
</g>
<g id="panelD">
<rect x="1090.9" y="517.8" width="894.0" height="396.2" fill="#eaeaf2"/>
<line class="g" x1="1104.2" y1="517.8" x2="1104.2" y2="914.0"/>
<line class="g" x1="1293.0" y1="517.8" x2="1293.0" y2="914.0"/>
<line class="g" x1="1481.9" y1="517.8" x2="1481.9" y2="914.0"/>
<line class="g" x1="1670.4" y1="517.8" x2="1670.4" y2="914.0"/>
<line class="g" x1="1858.9" y1="517.8" x2="1858.9" y2="914.0"/>
<line class="g" x1="1090.9" y1="573.0" x2="1984.9" y2="573.0"/>
<line class="g" x1="1090.9" y1="656.7" x2="1984.9" y2="656.7"/>
<line class="g" x1="1090.9" y1="740.4" x2="1984.9" y2="740.4"/>
<line class="g" x1="1090.9" y1="824.5" x2="1984.9" y2="824.5"/>
<line class="g" x1="1090.9" y1="908.4" x2="1984.9" y2="908.4"/>
<g class="d">
<circle cx="1695.9" cy="636.2" r="6.9"/><circle cx="1697.2" cy="654.6" r="6.9"/><circle cx="1689.2" cy="660.3" r="6.9"/><circle cx="1664.1" cy="658.9" r="6.9"/><circle cx="1729.8" cy="649.1" r="6.9"/><circle cx="1741" cy="652.8" r="6.9"/>
<circle cx="1724.8" cy="662.8" r="6.9"/><circle cx="1944" cy="652.4" r="6.9"/><circle cx="1131.6" cy="804.6" r="6.9"/><circle cx="1251.3" cy="764.5" r="6.9"/><circle cx="1271.7" cy="784" r="6.9"/><circle cx="1254.7" cy="796.7" r="6.9"/>
<circle cx="1273.1" cy="802.1" r="6.9"/><circle cx="1230.3" cy="805.8" r="6.9"/><circle cx="1249.7" cy="816.8" r="6.9"/><circle cx="1286.8" cy="817.1" r="6.9"/><circle cx="1169.9" cy="823.8" r="6.9"/><circle cx="1342.5" cy="727.4" r="6.9"/>
<circle cx="1401.5" cy="713.8" r="6.9"/><circle cx="1409.6" cy="725.7" r="6.9"/><circle cx="1424.5" cy="722.7" r="6.9"/><circle cx="1430.8" cy="727.4" r="6.9"/><circle cx="1422.3" cy="732.1" r="6.9"/><circle cx="1379" cy="734.6" r="6.9"/>
<circle cx="1374.3" cy="742.7" r="6.9"/><circle cx="1393.5" cy="735" r="6.9"/><circle cx="1399.4" cy="741" r="6.9"/><circle cx="1416.4" cy="741" r="6.9"/><circle cx="1431.3" cy="741" r="6.9"/><circle cx="1316.1" cy="751.6" r="6.9"/>
<circle cx="1325.5" cy="751.2" r="6.9"/><circle cx="1332.3" cy="748.6" r="6.9"/><circle cx="1352.7" cy="750.7" r="6.9"/><circle cx="1336.5" cy="758.8" r="6.9"/><circle cx="1345.9" cy="758" r="6.9"/><circle cx="1353.1" cy="757.1" r="6.9"/>
<circle cx="1362.9" cy="765.6" r="6.9"/><circle cx="1456.3" cy="729.1" r="6.9"/><circle cx="1467.4" cy="731.6" r="6.9"/><circle cx="1454.6" cy="737.6" r="6.9"/><circle cx="1461.4" cy="739.3" r="6.9"/><circle cx="1446.1" cy="749.5" r="6.9"/>
<circle cx="1400.3" cy="749.5" r="6.9"/><circle cx="1411.3" cy="752.9" r="6.9"/><circle cx="1392.6" cy="761.4" r="6.9"/><circle cx="1400.3" cy="764.8" r="6.9"/><circle cx="1418.9" cy="759.7" r="6.9"/><circle cx="1414.7" cy="766.5" r="6.9"/>
<circle cx="1439.3" cy="761.4" r="6.9"/><circle cx="1457.2" cy="760.5" r="6.9"/><circle cx="1449.5" cy="766.5" r="6.9"/><circle cx="1469.1" cy="752" r="6.9"/><circle cx="1469.1" cy="762.2" r="6.9"/><circle cx="1337.4" cy="772.1" r="6.9"/>
<circle cx="1344.2" cy="774.6" r="6.9"/><circle cx="1356.9" cy="771.2" r="6.9"/><circle cx="1368.8" cy="771.2" r="6.9"/><circle cx="1369.7" cy="777.6" r="6.9"/><circle cx="1303.4" cy="783.1" r="6.9"/><circle cx="1322.1" cy="784.4" r="6.9"/>
<circle cx="1334" cy="787.4" r="6.9"/><circle cx="1359.5" cy="786.5" r="6.9"/><circle cx="1367.1" cy="782.7" r="6.9"/><circle cx="1385" cy="786.5" r="6.9"/><circle cx="1374.8" cy="793.8" r="6.9"/><circle cx="1339.9" cy="796.7" r="6.9"/>
<circle cx="1351" cy="803.5" r="6.9"/><circle cx="1337" cy="807.8" r="6.9"/><circle cx="1305.1" cy="802.7" r="6.9"/><circle cx="1313.6" cy="803.5" r="6.9"/><circle cx="1308.5" cy="818" r="6.9"/><circle cx="1401.1" cy="772.9" r="6.9"/>
<circle cx="1401.5" cy="784" r="6.9"/><circle cx="1426.6" cy="776.3" r="6.9"/><circle cx="1421.5" cy="781.4" r="6.9"/><circle cx="1417.2" cy="786.5" r="6.9"/><circle cx="1415.1" cy="799.3" r="6.9"/><circle cx="1393.9" cy="802.7" r="6.9"/>
<circle cx="1394.3" cy="813.7" r="6.9"/><circle cx="1387.5" cy="818.8" r="6.9"/><circle cx="1409.6" cy="813.3" r="6.9"/><circle cx="1442.7" cy="798.9" r="6.9"/><circle cx="1447.8" cy="779.7" r="6.9"/><circle cx="1444.4" cy="784.8" r="6.9"/>
<circle cx="1451.2" cy="785.7" r="6.9"/><circle cx="1451.2" cy="770.4" r="6.9"/><circle cx="1458" cy="768.7" r="6.9"/><circle cx="1469.1" cy="772.1" r="6.9"/><circle cx="1325.5" cy="838.6" r="6.9"/><circle cx="1300" cy="847.7" r="6.9"/>
<circle cx="1519.4" cy="692.5" r="6.9"/><circle cx="1544.9" cy="695.1" r="6.9"/><circle cx="1499.8" cy="707" r="6.9"/><circle cx="1503.2" cy="707" r="6.9"/><circle cx="1533" cy="704.4" r="6.9"/><circle cx="1527" cy="710.8" r="6.9"/>
<circle cx="1539.8" cy="708.7" r="6.9"/><circle cx="1522.8" cy="719.7" r="6.9"/><circle cx="1555.1" cy="710.4" r="6.9"/><circle cx="1567.8" cy="715.5" r="6.9"/><circle cx="1578" cy="696.8" r="6.9"/><circle cx="1604.3" cy="692.5" r="6.9"/>
<circle cx="1607.7" cy="701.9" r="6.9"/><circle cx="1596.7" cy="704.4" r="6.9"/><circle cx="1596.7" cy="712.1" r="6.9"/><circle cx="1631.5" cy="701" r="6.9"/><circle cx="1634.1" cy="710.4" r="6.9"/><circle cx="1492.2" cy="722.3" r="6.9"/>
<circle cx="1487.1" cy="730.8" r="6.9"/><circle cx="1507.5" cy="724" r="6.9"/><circle cx="1588.2" cy="723.1" r="6.9"/><circle cx="1597.5" cy="721.4" r="6.9"/><circle cx="1615.4" cy="716.3" r="6.9"/><circle cx="1609.4" cy="724" r="6.9"/>
<circle cx="1622.2" cy="726.5" r="6.9"/><circle cx="1633.2" cy="725.7" r="6.9"/><circle cx="1602.6" cy="730.8" r="6.9"/><circle cx="1564.4" cy="733.3" r="6.9"/><circle cx="1577.1" cy="730.8" r="6.9"/><circle cx="1573.8" cy="737.6" r="6.9"/>
<circle cx="1549.1" cy="736.7" r="6.9"/><circle cx="1532.1" cy="734.2" r="6.9"/><circle cx="1516" cy="737.6" r="6.9"/><circle cx="1527" cy="741" r="6.9"/><circle cx="1517.7" cy="745.2" r="6.9"/><circle cx="1497.3" cy="742.7" r="6.9"/>
<circle cx="1586.5" cy="737.6" r="6.9"/><circle cx="1588.2" cy="743.5" r="6.9"/><circle cx="1602.6" cy="741" r="6.9"/><circle cx="1565.3" cy="746.9" r="6.9"/><circle cx="1573.8" cy="744.4" r="6.9"/><circle cx="1625.6" cy="739.3" r="6.9"/>
<circle cx="1618.8" cy="748.6" r="6.9"/><circle cx="1598.8" cy="753.3" r="6.9"/><circle cx="1633.2" cy="753.7" r="6.9"/><circle cx="1546.6" cy="751.2" r="6.9"/><circle cx="1552.5" cy="755.4" r="6.9"/><circle cx="1564.4" cy="756.3" r="6.9"/>
<circle cx="1524.5" cy="754.6" r="6.9"/><circle cx="1533" cy="759.7" r="6.9"/><circle cx="1538.1" cy="766.5" r="6.9"/><circle cx="1529.6" cy="764.8" r="6.9"/><circle cx="1482" cy="749.5" r="6.9"/><circle cx="1493" cy="747.8" r="6.9"/>
<circle cx="1473.5" cy="754.6" r="6.9"/><circle cx="1499" cy="756.3" r="6.9"/><circle cx="1496.4" cy="762.2" r="6.9"/><circle cx="1490.5" cy="766.5" r="6.9"/><circle cx="1479.4" cy="778.9" r="6.9"/><circle cx="1488.8" cy="784" r="6.9"/>
<circle cx="1499" cy="778" r="6.9"/><circle cx="1507.1" cy="777.6" r="6.9"/><circle cx="1519.4" cy="774.2" r="6.9"/><circle cx="1536.4" cy="772.1" r="6.9"/><circle cx="1536.4" cy="783.1" r="6.9"/><circle cx="1486.9" cy="798" r="6.9"/>
<circle cx="1492.2" cy="770.4" r="6.9"/><circle cx="1655.9" cy="690.6" r="6.9"/><circle cx="1666.1" cy="689.3" r="6.9"/><circle cx="1648.7" cy="704.8" r="6.9"/><circle cx="1638.9" cy="711.2" r="6.9"/><circle cx="1653.6" cy="717.1" r="6.9"/>
<circle cx="1685.6" cy="697.2" r="6.9"/><circle cx="1684" cy="702.3" r="6.9"/><circle cx="1692.9" cy="702.3" r="6.9"/><circle cx="1705.2" cy="682.7" r="6.9"/><circle cx="1712.8" cy="690.4" r="6.9"/><circle cx="1710.3" cy="693.8" r="6.9"/>
<circle cx="1716.7" cy="702.3" r="6.9"/><circle cx="1787.9" cy="697.4" r="6.9"/><circle cx="1681" cy="726" r="6.9"/><circle cx="1667.2" cy="744" r="6.9"/><circle cx="1193.7" cy="829.3" r="6.9"/><circle cx="1213.4" cy="828.2" r="6.9"/>
<circle cx="1146.7" cy="839.9" r="6.9"/><circle cx="1240.5" cy="841.9" r="6.9"/><circle cx="1259.4" cy="839.7" r="6.9"/><circle cx="1286.4" cy="832.7" r="6.9"/><circle cx="1247.5" cy="861.6" r="6.9"/><circle cx="1367.5" cy="852.7" r="6.9"/>
<circle cx="1527.2" cy="671.9" r="6.9"/><circle cx="1559.7" cy="673.6" r="6.9"/><circle cx="1543.6" cy="684.6" r="6.9"/><circle cx="1555.5" cy="684.6" r="6.9"/><circle cx="1615.4" cy="676.5" r="6.9"/><circle cx="1598" cy="683.3" r="6.9"/>
<circle cx="1609.4" cy="686.7" r="6.9"/><circle cx="1581.8" cy="694" r="6.9"/><circle cx="1600.9" cy="706.9" r="6.9"/><circle cx="1595.9" cy="715.2" r="6.9"/><circle cx="1605.9" cy="718.6" r="6.9"/><circle cx="1590.9" cy="726.9" r="6.9"/>
<circle cx="1599.2" cy="730.3" r="6.9"/><circle cx="1567.5" cy="733.6" r="6.9"/><circle cx="1590.9" cy="738.6" r="6.9"/><circle cx="1522.3" cy="738.6" r="6.9"/><circle cx="1515.6" cy="742" r="6.9"/><circle cx="1540.7" cy="767" r="6.9"/>
<circle cx="1470.5" cy="768.7" r="6.9"/><circle cx="1452.1" cy="740.3" r="6.9"/><circle cx="1400.3" cy="762" r="6.9"/><circle cx="1398.6" cy="768.7" r="6.9"/><circle cx="1413.7" cy="750.3" r="6.9"/><circle cx="1450.5" cy="778.7" r="6.9"/>
<circle cx="1487.2" cy="726.9" r="6.9"/><circle cx="1529" cy="708.5" r="6.9"/>
</g>
<line class="l" x1="1131.0" y1="896.2" x2="1944.2" y2="535.5"/>
<rect class="sp" x="1090.9" y="517.8" width="894.0" height="396.2"/>
<text class="t" transform="translate(1104.20 948.70) scale(1 1.08)" text-anchor="middle">−0.2</text>
<text class="t" transform="translate(1293.00 948.70) scale(1 1.08)" text-anchor="middle">−0.1</text>
<text class="t" transform="translate(1481.90 948.70) scale(1 1.08)" text-anchor="middle">0.0</text>
<text class="t" transform="translate(1670.40 948.70) scale(1 1.08)" text-anchor="middle">0.1</text>
<text class="t" transform="translate(1858.90 948.70) scale(1 1.08)" text-anchor="middle">0.2</text>
<text class="t" transform="translate(1072.40 581.40) scale(1 1.08)" text-anchor="end">0.2</text>
<text class="t" transform="translate(1072.40 665.10) scale(1 1.08)" text-anchor="end">0.1</text>
<text class="t" transform="translate(1072.40 748.80) scale(1 1.08)" text-anchor="end">0.0</text>
<text class="t" transform="translate(1072.40 832.90) scale(1 1.08)" text-anchor="end">−0.1</text>
<text class="t" transform="translate(1072.40 916.80) scale(1 1.08)" text-anchor="end">−0.2</text>
<text class="b" transform="translate(1124.50 598.60) scale(1 1.045)">R</text>
<text class="s" transform="translate(1152.70 571.30) scale(1 1.045)">2</text>
<text class="e" transform="translate(1177.10 598.60) scale(1 1.045)">=</text>
<text class="b" transform="translate(1229.50 598.60) scale(1 1.045)">0.61</text>
</g>
<text class="b" transform="translate(557.90 45.10) scale(1 1.045)" text-anchor="middle">Defensive parameters</text>
<text class="b" transform="translate(1537.90 45.10) scale(1 1.045)" text-anchor="middle">Offensive parameters</text>
<text class="b" transform="translate(44.80 238.90) rotate(-90) scale(1 1.045)" text-anchor="middle">High Variance</text>
<text class="b" transform="translate(44.80 694.70) rotate(-90) scale(1 1.045)" text-anchor="middle">Low Variance</text>
</svg>
</body></html>
